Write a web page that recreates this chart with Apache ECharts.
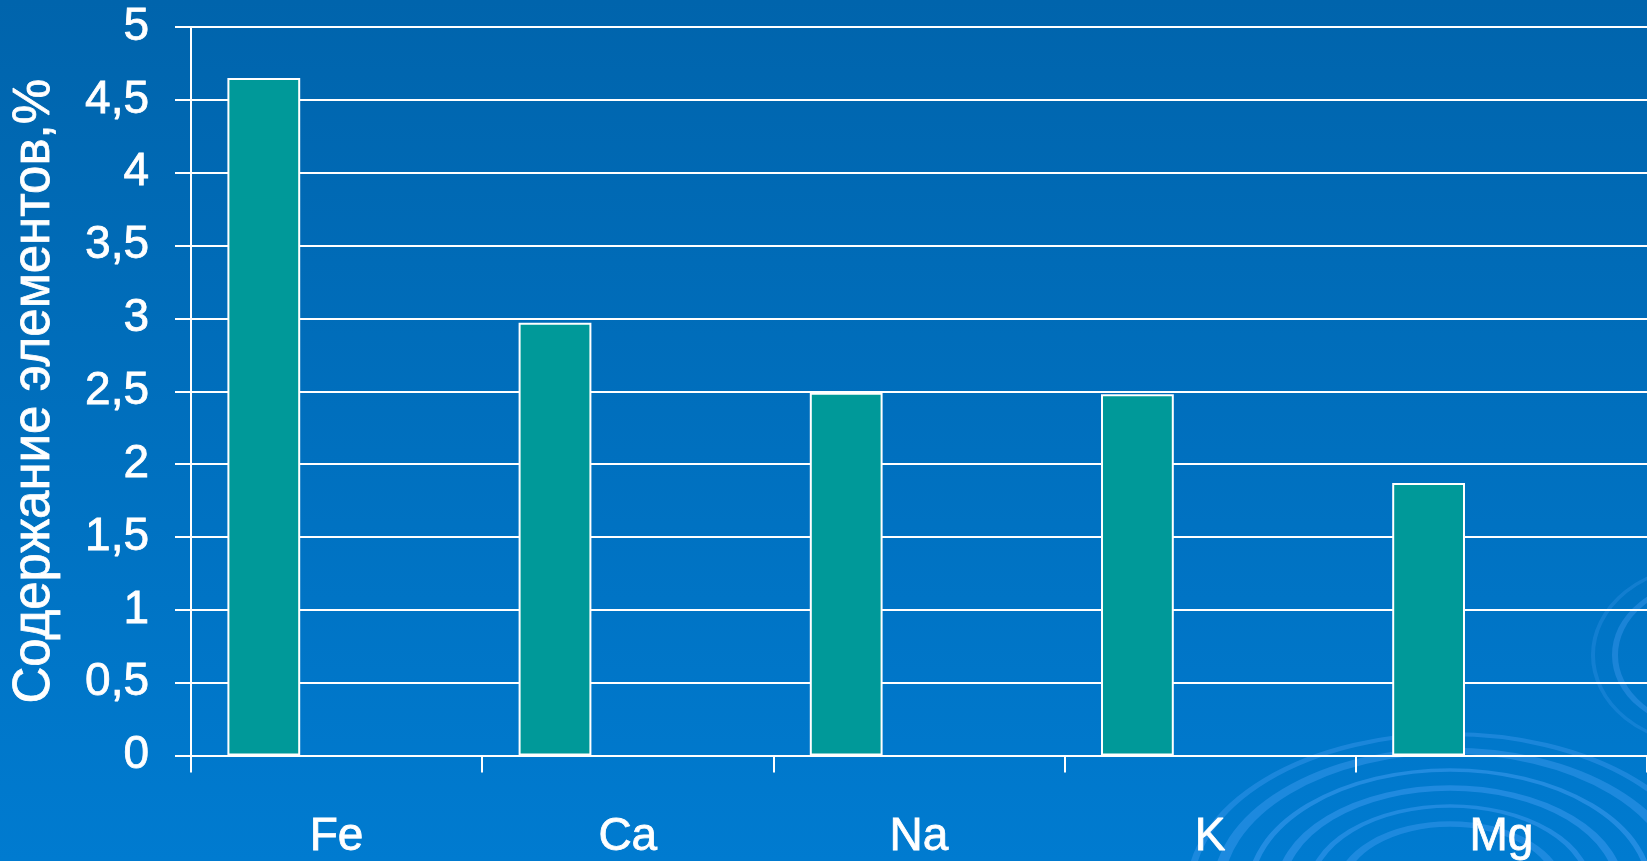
<!DOCTYPE html>
<html>
<head>
<meta charset="utf-8">
<script src="https://cdn.jsdelivr.net/npm/echarts@6/dist/echarts.min.js"></script>
<style>
html,body{margin:0;padding:0;width:100%;height:100%;overflow:hidden;}
#chart{width:1647px;height:861px;}
</style>
</head>
<body>
<div id="chart"></div>
<script>
var categories = ['Fe', 'Ca', 'Na', 'K', 'Mg'];
var contentValues = [4.65, 2.97, 2.49, 2.48, 1.87];
var emptySeriesB = [];
var emptySeriesC = [];
var yAxisTitle = 'Содержание элементов,%';

var chart = echarts.init(document.getElementById('chart'));

var rings = [];
var ringSpecs = [
  {r: 260, w: 7, o: 0.30},
  {r: 232, w: 11, o: 0.32},
  {r: 200, w: 6, o: 0.38},
  {r: 170, w: 9, o: 0.36},
  {r: 140, w: 6, o: 0.36},
  {r: 110, w: 9, o: 0.32}
];
ringSpecs.forEach(function (s) {
  rings.push({
    type: 'circle',
    shape: {cx: 0, cy: 0, r: s.r},
    x: 1450, y: 890, scaleY: 0.6,
    silent: true,
    z: -10,
    style: {fill: 'none', stroke: 'rgba(90,170,255,' + s.o + ')', lineWidth: s.w}
  });
});
rings.push({
  type: 'circle', shape: {cx: 0, cy: 0, r: 90}, x: 1705, y: 655, scaleY: 0.8, silent: true, z: -10,
  style: {fill: 'none', stroke: 'rgba(90,170,255,0.3)', lineWidth: 6}
});
rings.push({
  type: 'circle', shape: {cx: 0, cy: 0, r: 112}, x: 1705, y: 655, scaleY: 0.8, silent: true, z: -10,
  style: {fill: 'none', stroke: 'rgba(90,170,255,0.2)', lineWidth: 4}
});

var textBase = {color: '#ffffff', fontFamily: 'Liberation Sans, Arial', textBorderColor: '#ffffff', textBorderWidth: 0.8};

var option = {
  backgroundColor: {
    type: 'linear', x: 0, y: 0, x2: 0, y2: 1,
    colorStops: [{offset: 0, color: '#0064AC'}, {offset: 1, color: '#007BD0'}]
  },
  animation: false,
  graphic: rings,
  grid: {left: 191, top: 27, width: 1468, bottom: 102, containLabel: false},
  xAxis: {
    type: 'category',
    data: categories,
    axisLine: {show: true, lineStyle: {color: '#ffffff', width: 2}},
    axisTick: {show: true, alignWithLabel: false, length: 17, lineStyle: {color: '#ffffff', width: 2}},
    axisLabel: Object.assign({}, textBase, {fontSize: 46, margin: 59}),
    splitLine: {show: false}
  },
  yAxis: {
    type: 'value',
    min: 0, max: 5, interval: 0.5,
    name: yAxisTitle,
    nameLocation: 'middle',
    nameRotate: 90,
    nameGap: 131,
    nameTextStyle: Object.assign({}, textBase, {fontSize: 51}),
    axisLine: {show: true, lineStyle: {color: '#ffffff', width: 2}},
    axisTick: {show: true, length: 16, lineStyle: {color: '#ffffff', width: 2}},
    axisLabel: Object.assign({}, textBase, {
      fontSize: 46, margin: 42,
      formatter: function (v) { return String(v).replace('.', ','); }
    }),
    splitLine: {show: true, lineStyle: {color: '#ffffff', width: 2}}
  },
  series: [
    {
      type: 'bar', name: 'A', data: contentValues,
      barGap: '0%', barCategoryGap: '25%',
      itemStyle: {color: '#009999', borderColor: '#ffffff', borderWidth: 2},
      z: 3
    },
    {type: 'bar', name: 'B', data: emptySeriesB, barGap: '0%', barCategoryGap: '25%'},
    {type: 'bar', name: 'C', data: emptySeriesC, barGap: '0%', barCategoryGap: '25%'}
  ]
};
chart.setOption(option);
</script>
</body>
</html>
